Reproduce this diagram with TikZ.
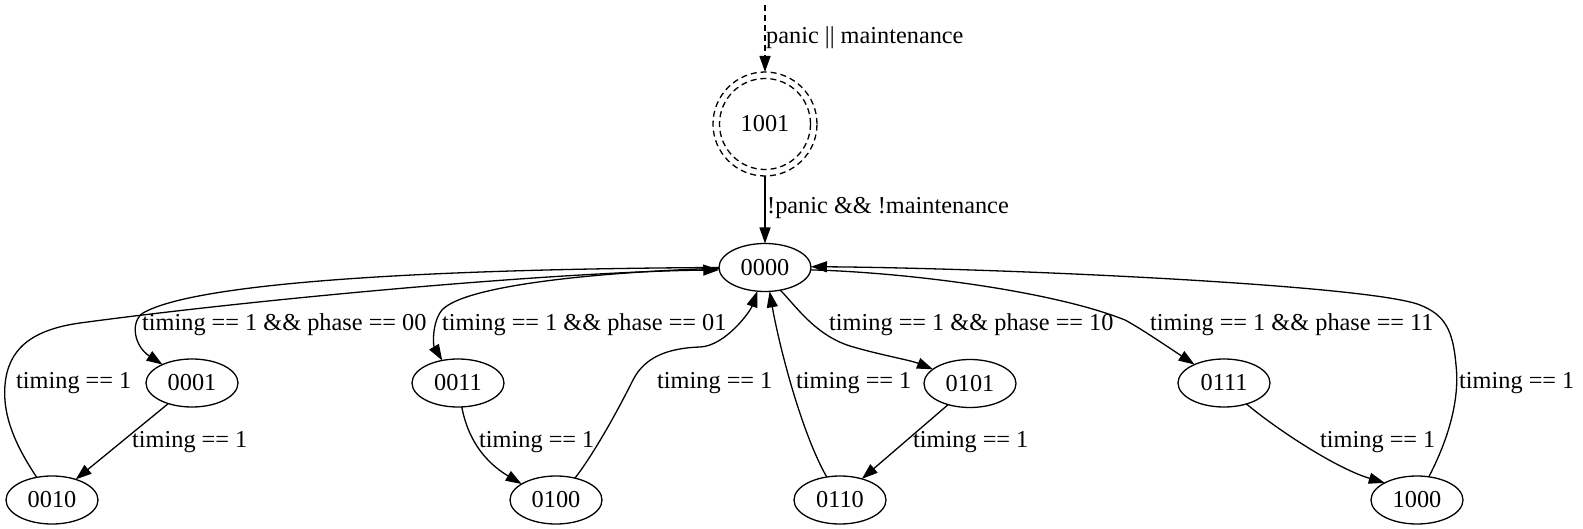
\documentclass[tikz,border=0pt]{standalone}
\usepackage{fontspec}
\setmainfont{Liberation Serif}
\usetikzlibrary{shapes.geometric,arrows.meta}
\begin{document}
\begin{tikzpicture}[x=1pt,y=-1pt,
  every node/.style={font=\fontsize{24.3}{29}\selectfont},
  st/.style={draw,ellipse,minimum width=92pt,minimum height=48pt,inner sep=0pt,outer sep=0pt,line width=1.3pt},
  lbl/.style={anchor=west,inner sep=0pt},
  conn/.style={line width=1.3pt,-{Triangle[length=16pt,width=11pt]}},
  dsh/.style={dash pattern=on 6pt off 4pt},
]
\useasboundingbox (0,0) rectangle (1583,529);

% nodes
\node[draw,circle,dsh,minimum size=104pt,inner sep=0pt,outer sep=0pt,line width=1.3pt] (n1001) at (765,124) {1001};
\draw[dsh,line width=1.3pt] (n1001.center) circle[radius=45.5pt];
\coordinate (s0) at (765,5);
\node[st] (n0000) at (765,267.5) {0000};
\node[st] (n0001) at (192,383) {0001};
\node[st] (n0011) at (458,383) {0011};
\node[st] (n0101) at (970,383.5) {0101};
\node[st] (n0111) at (1224,383) {0111};
\node[st] (n0010) at (52,500) {0010};
\node[st] (n0100) at (556,500) {0100};
\node[st] (n0110) at (840,500) {0110};
\node[st] (n1000) at (1417,500) {1000};

% edges
\draw[conn,dsh] (s0) -- (n1001.90);
\draw[conn] (n1001.270) -- (n0000.90);

% 0000 -> 0001
\draw[conn] (n0000.180) .. controls (420,269) and (195,283) .. (143,313)
  .. controls (130,322) and (134,346) .. (n0001.148);
% 0010 -> 0000
\draw[conn] (n0010.124) .. controls (20,452) and (2,420) .. (5,385)
  .. controls (8,350) and (30,330) .. (80,323)
  .. controls (250,300) and (550,272) .. (n0000.183);
% 0000 -> 0011
\draw[conn] (n0000.181) .. controls (600,272) and (465,285) .. (442,310)
  .. controls (432,322) and (433,345) .. (n0011.125);
% 0001 -> 0010
\draw[conn] (n0001.221) -- (n0010.41);
% 0011 -> 0100
\draw[conn] (n0011.279) .. controls (466,430) and (478,458) .. (n0100.155);
% 0100 -> 0000
\draw[conn] (n0100.49) .. controls (595,452) and (618,410) .. (633,380)
  .. controls (645,356) and (670,348) .. (700,347)
  .. controls (725,346) and (750,312) .. (n0000.252);
% 0110 -> 0000
\draw[conn] (n0110.120) .. controls (800,430) and (778,340) .. (n0000.281);
% 0000 -> 0101
\draw[conn] (n0000.304) .. controls (795,305) and (815,335) .. (850,346)
  .. controls (880,355) and (910,360) .. (n0101.159);
% 0101 -> 0110
\draw[conn] (n0101.224) -- (n0110.44);
% 0000 -> 0111
\draw[conn] (n0000.357) .. controls (900,272) and (1050,290) .. (1125,320)
  .. controls (1140,328) and (1165,345) .. (n0111.148);
% 0111 -> 1000
\draw[conn] (n0111.317) .. controls (1275,428) and (1335,468) .. (n1000.152);
% 1000 -> 0000
\draw[conn] (n1000.63) .. controls (1448,440) and (1460,400) .. (1456,365)
  .. controls (1453,330) and (1445,315) .. (1420,305)
  .. controls (1370,285) and (1000,268) .. (n0000.1);

% labels
\node[lbl] (l1) at (766,38) {panic || maintenance};
\node[lbl] (l2) at (767,208) {!panic \&\& !maintenance};
\node[lbl] (l3) at (142,325) {timing == 1 \&\& phase == 00};
\node[lbl] (l4) at (16,383) {timing == 1};
\node[lbl] (l5) at (442,325) {timing == 1 \&\& phase == 01};
\node[lbl] (l6) at (132,442) {timing == 1};
\node[lbl] (l7) at (479,442) {timing == 1};
\node[lbl] (l8) at (657,383) {timing == 1};
\node[lbl] (l9) at (796,383) {timing == 1};
\node[lbl] (l10) at (829,325) {timing == 1 \&\& phase == 10};
\node[lbl] (l11) at (913,442) {timing == 1};
\node[lbl] (l12) at (1150,325) {timing == 1 \&\& phase == 11};
\node[lbl] (l13) at (1320,442) {timing == 1};
\node[lbl] (l14) at (1459,383) {timing == 1};
\end{tikzpicture}
\end{document}
